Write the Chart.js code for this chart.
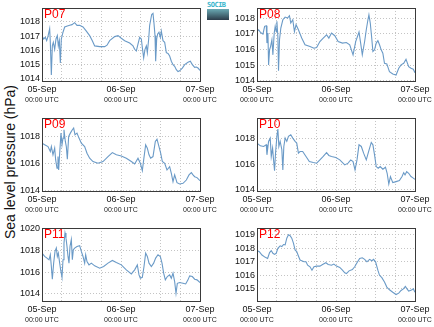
<!DOCTYPE html>
<html>
<head>
<meta charset="utf-8">
<script src="https://cdn.jsdelivr.net/npm/chart.js@4.4.1/dist/chart.umd.min.js"></script>
<style>
  html, body { margin: 0; padding: 0; background: #fff; }
  #page { position: relative; width: 434px; height: 327px; overflow: hidden; }
  .panel { position: absolute; }
  #ytitle {
    position: absolute; left: 10px; top: 162px;
    transform: translate(-50%, -50%) rotate(-90deg);
    white-space: nowrap; font: 14px 'Liberation Sans', Arial, sans-serif; color: #111;
  }
  #logo { position: absolute; left: 207px; top: 2px; width: 22px; }
  #logo .txt { font: bold 7px 'DejaVu Sans Mono', monospace; color: #3bb6cc; line-height: 7px; letter-spacing: -0.5px; }
  #logo .box { height: 11px; background: linear-gradient(#6aaab4, #2c3c4a); }
</style>
</head>
<body>
<div id="page">
  <div id="ytitle">Sea level pressure (hPa)</div>
  <div id="logo"><div class="txt">SOCIB</div><div class="box"></div></div>
</div>
<script>
// Tick labels
const dayLabels = ['05-Sep', '06-Sep', '07-Sep'];
const utcLabel = '00:00 UTC';

// Hours since 05-Sep 00:00 UTC and sea level pressure (hPa)
const p07Hours = [0, 0.51, 1.01, 1.42, 1.82, 2.33, 2.53, 2.84, 3.14, 3.44, 3.85, 4.25, 4.66, 4.96, 5.27, 5.57, 5.87, 6.38, 6.89, 7.7, 8.41, 9.11, 9.92, 10.63, 11.44, 12.46, 13.47, 14.48, 15.29, 16.0, 17.52, 19.04, 19.75, 20.56, 22.08, 23.09, 24.1, 25.11, 26.63, 27.65, 28.15, 28.66, 29.16, 29.67, 30.18, 30.48, 30.89, 31.29, 31.7, 32.0, 32.41, 32.71, 33.32, 33.72, 34.03, 34.33, 34.53, 34.84, 35.14, 35.54, 35.95, 36.25, 36.76, 37.27, 37.77, 38.28, 38.78, 39.29, 39.8, 40.3, 40.81, 41.32, 41.82, 42.63, 43.34, 44.35, 45.06, 45.67, 46.38, 46.89, 47.39, 48.0];
const p07Values = [1017.03, 1016.79, 1016.91, 1016.67, 1016.98, 1017.52, 1016.55, 1014.24, 1016.3, 1016.55, 1016.06, 1016.79, 1017.03, 1016.3, 1016.67, 1015.09, 1016.79, 1017.27, 1017.64, 1017.71, 1017.76, 1017.81, 1017.95, 1017.76, 1017.76, 1017.64, 1017.35, 1017.03, 1016.67, 1016.3, 1016.25, 1016.25, 1016.35, 1016.67, 1016.96, 1017.03, 1016.84, 1016.67, 1016.5, 1016.3, 1016.06, 1015.94, 1016.42, 1016.91, 1016.79, 1016.18, 1015.45, 1016.06, 1016.3, 1015.82, 1016.79, 1017.76, 1018.53, 1018.61, 1017.88, 1017.03, 1015.21, 1016.79, 1017.15, 1017.27, 1016.91, 1017.35, 1016.67, 1016.55, 1015.82, 1015.77, 1015.58, 1015.21, 1014.97, 1014.85, 1014.61, 1014.48, 1014.53, 1014.73, 1014.97, 1015.14, 1015.21, 1014.97, 1014.78, 1014.8, 1014.73, 1014.56];

const p08Hours = [0, 0.5, 1.01, 1.31, 1.81, 2.31, 2.82, 3.02, 3.32, 3.52, 3.82, 4.12, 4.53, 4.83, 5.23, 5.53, 5.84, 6.04, 6.34, 6.54, 6.84, 7.24, 7.85, 8.55, 9.26, 9.86, 10.26, 10.87, 11.37, 11.87, 12.58, 13.58, 14.59, 16.1, 17.3, 18.11, 19.11, 20.12, 21.13, 21.83, 22.64, 23.64, 24.65, 25.96, 27.16, 28.17, 29.18, 29.98, 30.99, 31.49, 31.99, 32.7, 33.2, 33.7, 34.0, 34.41, 34.81, 35.21, 35.71, 36.22, 36.72, 37.22, 37.73, 38.23, 38.73, 39.44, 40.24, 41.25, 42.25, 43.06, 43.76, 44.57, 45.27, 46.08, 46.78, 47.48, 47.99];
const p08Values = [1017.14, 1017.25, 1017.1, 1017.04, 1016.97, 1017.47, 1017.51, 1016.4, 1017.04, 1015.01, 1015.97, 1016.18, 1016.61, 1015.65, 1017.04, 1017.47, 1017.14, 1017.79, 1016.82, 1014.64, 1016.61, 1017.36, 1017.89, 1018.06, 1018.0, 1018.15, 1017.68, 1017.89, 1017.14, 1017.57, 1017.25, 1016.72, 1016.29, 1016.18, 1016.07, 1016.12, 1016.5, 1016.72, 1016.93, 1016.72, 1017.04, 1016.87, 1016.5, 1016.4, 1016.44, 1016.29, 1015.65, 1016.5, 1017.1, 1016.4, 1015.65, 1016.5, 1017.25, 1017.89, 1018.21, 1017.68, 1016.82, 1015.86, 1015.97, 1016.4, 1016.55, 1016.29, 1015.97, 1015.75, 1015.11, 1015.07, 1014.58, 1014.43, 1014.36, 1014.79, 1015.01, 1015.11, 1015.37, 1014.9, 1014.79, 1014.73, 1014.51];

const p09Hours = [0, 0.81, 1.82, 2.53, 2.84, 3.34, 3.85, 4.15, 4.56, 4.86, 5.06, 5.37, 5.77, 6.08, 6.38, 6.68, 7.09, 7.39, 7.7, 8.1, 8.61, 9.22, 9.62, 10.03, 10.63, 11.24, 11.95, 12.96, 13.67, 14.48, 15.49, 17.01, 18.53, 20.05, 21.37, 22.58, 24.1, 25.62, 27.14, 28.15, 29.16, 29.87, 30.48, 30.89, 31.49, 32.0, 32.51, 33.01, 33.72, 34.43, 34.94, 35.54, 36.05, 36.56, 37.27, 37.97, 38.78, 39.29, 39.8, 40.3, 41.01, 41.82, 42.84, 43.85, 44.66, 45.37, 45.87, 46.38, 47.09, 48.0];
const p09Values = [1017.5, 1017.38, 1017.25, 1016.88, 1017.25, 1016.63, 1017.13, 1016.25, 1015.63, 1016.5, 1015.5, 1016.75, 1018.25, 1017.38, 1017.88, 1018.5, 1017.63, 1017.25, 1016.3, 1018.0, 1018.25, 1018.5, 1018.63, 1018.13, 1018.25, 1017.88, 1017.5, 1017.25, 1016.75, 1016.38, 1016.13, 1016.0, 1016.13, 1016.5, 1016.8, 1016.63, 1016.55, 1016.38, 1016.13, 1015.95, 1016.38, 1016.0, 1015.45, 1016.25, 1017.38, 1017.13, 1016.63, 1016.38, 1016.5, 1017.63, 1017.8, 1017.25, 1016.75, 1016.13, 1016.0, 1015.5, 1015.75, 1015.25, 1014.63, 1015.13, 1014.55, 1014.45, 1014.5, 1014.75, 1015.13, 1015.3, 1015.13, 1015.0, 1014.93, 1014.7];

const p10Hours = [0, 1.01, 2.01, 2.82, 3.02, 3.52, 4.02, 4.33, 4.73, 5.03, 5.33, 5.63, 6.04, 6.34, 6.64, 7.04, 7.55, 7.85, 8.15, 8.55, 9.05, 9.56, 10.26, 10.87, 11.57, 12.07, 12.58, 13.08, 13.88, 14.89, 15.9, 17.1, 18.11, 19.11, 20.12, 21.13, 21.83, 22.64, 23.94, 25.15, 26.66, 27.67, 28.47, 29.18, 29.78, 30.38, 30.99, 31.69, 32.39, 33.2, 33.9, 34.71, 35.21, 35.71, 36.22, 36.82, 37.42, 38.23, 39.03, 39.54, 40.04, 40.54, 41.25, 42.25, 43.26, 44.06, 44.57, 44.97, 45.47, 46.08, 46.78, 47.28, 47.99];
const p10Values = [1017.66, 1017.44, 1017.39, 1017.52, 1016.73, 1017.79, 1018.05, 1016.6, 1017.26, 1016.33, 1015.48, 1016.86, 1018.19, 1018.77, 1017.39, 1017.79, 1017.13, 1015.54, 1017.39, 1018.05, 1017.79, 1018.19, 1018.32, 1018.05, 1017.79, 1017.66, 1016.86, 1016.99, 1016.99, 1016.6, 1016.2, 1016.12, 1016.07, 1016.33, 1016.6, 1016.91, 1016.68, 1016.6, 1016.52, 1016.33, 1015.93, 1016.07, 1016.33, 1016.2, 1015.54, 1016.33, 1017.52, 1017.39, 1016.86, 1016.33, 1016.99, 1017.71, 1017.52, 1016.73, 1015.8, 1015.67, 1015.8, 1015.59, 1015.75, 1015.27, 1014.42, 1015.01, 1014.53, 1014.61, 1014.69, 1015.01, 1015.32, 1015.14, 1015.4, 1015.27, 1015.01, 1014.93, 1014.79];

const p11Hours = [0, 0.81, 1.52, 2.13, 2.53, 2.84, 3.14, 3.54, 3.95, 4.35, 4.66, 4.96, 5.37, 5.67, 6.08, 6.38, 6.68, 6.99, 7.29, 7.59, 7.9, 8.2, 8.51, 8.91, 9.22, 9.52, 9.92, 10.63, 11.44, 11.95, 12.46, 12.96, 13.27, 13.67, 14.28, 14.99, 16.0, 17.52, 18.73, 20.05, 21.37, 22.58, 24.1, 25.62, 27.14, 28.15, 28.96, 29.47, 29.87, 30.48, 30.99, 31.49, 32.0, 32.51, 33.22, 33.92, 34.53, 35.24, 35.95, 36.46, 36.96, 37.47, 38.08, 38.78, 39.29, 39.8, 40.3, 40.71, 41.11, 41.82, 42.84, 43.65, 44.35, 44.86, 45.67, 46.38, 47.09, 48.0];
const p11Values = [1017.76, 1017.45, 1017.3, 1017.14, 1017.61, 1016.52, 1015.34, 1016.83, 1017.92, 1018.23, 1017.45, 1017.76, 1016.83, 1016.21, 1015.52, 1017.14, 1018.69, 1019.63, 1019.16, 1018.38, 1017.45, 1016.83, 1018.38, 1019.01, 1017.14, 1018.07, 1018.23, 1018.38, 1018.45, 1017.92, 1017.45, 1016.83, 1017.61, 1016.98, 1016.67, 1016.83, 1016.58, 1016.36, 1016.52, 1016.83, 1017.08, 1016.89, 1016.67, 1016.21, 1015.83, 1016.21, 1016.67, 1015.74, 1015.43, 1015.52, 1016.52, 1017.76, 1017.45, 1016.83, 1016.52, 1016.83, 1017.3, 1017.61, 1017.45, 1016.83, 1015.9, 1015.28, 1015.59, 1015.74, 1015.43, 1015.9, 1015.12, 1014.03, 1014.96, 1015.03, 1014.96, 1014.9, 1015.28, 1015.65, 1015.59, 1015.34, 1015.28, 1015.03];

const p12Hours = [0, 0.7, 1.51, 2.52, 3.22, 3.82, 4.33, 4.83, 5.33, 5.84, 6.34, 7.04, 7.55, 8.05, 8.55, 9.05, 9.56, 10.06, 10.56, 11.07, 11.57, 12.07, 12.58, 13.08, 13.58, 14.29, 14.89, 15.39, 16.1, 16.7, 17.3, 18.11, 19.11, 19.92, 20.93, 21.63, 22.64, 23.34, 24.14, 25.15, 25.96, 26.66, 27.16, 27.97, 28.97, 29.68, 30.38, 31.19, 31.99, 32.7, 33.4, 34.21, 34.91, 35.41, 36.02, 36.72, 37.22, 37.93, 38.73, 39.44, 40.24, 41.25, 42.25, 43.06, 43.76, 44.47, 45.07, 45.57, 46.08, 46.58, 47.08, 47.48, 47.99];
const p12Values = [1017.83, 1017.75, 1017.5, 1017.33, 1017.25, 1017.68, 1017.83, 1017.63, 1017.55, 1017.63, 1018.0, 1018.18, 1018.13, 1018.28, 1018.25, 1018.75, 1019.0, 1018.93, 1018.75, 1018.38, 1017.88, 1017.75, 1017.43, 1017.13, 1017.08, 1017.0, 1017.0, 1016.75, 1016.63, 1016.38, 1016.63, 1016.68, 1016.68, 1016.8, 1016.93, 1016.8, 1016.75, 1016.83, 1016.68, 1016.58, 1016.38, 1016.18, 1016.13, 1016.33, 1016.43, 1016.63, 1016.93, 1017.25, 1017.3, 1017.18, 1017.0, 1017.18, 1017.08, 1017.18, 1017.0, 1016.38, 1016.0, 1015.83, 1015.5, 1015.13, 1014.93, 1014.75, 1014.58, 1014.68, 1014.88, 1015.0, 1015.18, 1015.0, 1014.83, 1014.88, 1014.93, 1015.0, 1014.75];

// Panel names and y ranges
const stations = ['P07', 'P08', 'P09', 'P10', 'P11', 'P12'];
const stationHours = [p07Hours, p08Hours, p09Hours, p10Hours, p11Hours, p12Hours];
const stationValues = [p07Values, p08Values, p09Values, p10Values, p11Values, p12Values];
const yMin = [1013.81, 1013.98, 1013.93, 1013.87, 1013.32, 1014.1];
const yMax = [1018.99, 1018.64, 1019.38, 1019.64, 1020.09, 1019.5];
const yStep = [1, 1, 2, 2, 2, 1];

// Plot area top-left corner of each panel (page px)
const plotLeft = [42, 257, 42, 257, 42, 257];
const plotTop = [8, 8, 118, 118, 228, 228];
const PLOT_W = 158, PLOT_H = 73;
const Y_AXIS_W = 40, X_AXIS_H = 13, X2_AXIS_H = 17, PAD_TOP = 6, PAD_RIGHT = 20;

Chart.defaults.font.family = "'Liberation Sans', Arial, sans-serif";
Chart.defaults.color = '#222';

const framePlugin = {
  id: 'frame',
  afterDatasetsDraw(chart, args, opts) {
    const { ctx, chartArea: a } = chart;
    ctx.save();
    ctx.strokeStyle = '#3a3a3a';
    ctx.lineWidth = 1;
    ctx.strokeRect(a.left + 0.5, a.top + 0.5, a.right - a.left, a.bottom - a.top);
    ctx.fillStyle = '#ff0000';
    ctx.font = "12px 'Liberation Sans', Arial, sans-serif";
    ctx.textBaseline = 'top';
    ctx.fillText(opts.label, a.left + 2, a.top + 1);
    ctx.restore();
  }
};

const page = document.getElementById('page');

stations.forEach((name, i) => {
  const wrap = document.createElement('div');
  wrap.className = 'panel';
  wrap.style.left = (plotLeft[i] - Y_AXIS_W) + 'px';
  wrap.style.top = (plotTop[i] - PAD_TOP) + 'px';
  const canvas = document.createElement('canvas');
  canvas.width = Y_AXIS_W + PLOT_W + PAD_RIGHT;
  canvas.height = PAD_TOP + PLOT_H + X_AXIS_H + X2_AXIS_H;
  wrap.appendChild(canvas);
  page.appendChild(wrap);

  const points = stationHours[i].map((h, k) => ({ x: h, y: stationValues[i][k] }));

  new Chart(canvas, {
    type: 'line',
    data: {
      datasets: [{
        data: points,
        borderColor: 'rgb(106, 154, 199)',
        borderWidth: 1.1,
        pointRadius: 0,
        tension: 0,
        fill: false
      }]
    },
    plugins: [framePlugin],
    options: {
      responsive: false,
      animation: false,
      events: [],
      layout: { padding: { top: PAD_TOP, right: PAD_RIGHT, left: 0, bottom: 0 } },
      plugins: {
        legend: { display: false },
        tooltip: { enabled: false },
        frame: { label: name }
      },
      scales: {
        x: {
          type: 'linear',
          position: 'bottom',
          min: 0,
          max: 48,
          afterFit(scale) { scale.height = X_AXIS_H; scale.paddingLeft = 0; scale.paddingRight = 0; },
          ticks: {
            stepSize: 6,
            autoSkip: false,
            maxRotation: 0,
            padding: 3,
            font: { size: 9 },
            color: '#111',
            callback: v => (v % 24 === 0 ? dayLabels[v / 24] : '')
          },
          grid: { color: '#c4c4c4', lineWidth: 1, drawTicks: false },
          border: { display: false, dash: [1, 2] }
        },
        x2: {
          type: 'linear',
          position: 'bottom',
          min: 0,
          max: 48,
          afterFit(scale) { scale.height = X2_AXIS_H; scale.paddingLeft = 0; scale.paddingRight = 0; },
          ticks: {
            stepSize: 24,
            autoSkip: false,
            maxRotation: 0,
            padding: 2,
            font: { size: 7 },
            color: '#222',
            callback: () => utcLabel
          },
          grid: { display: false, drawTicks: false },
          border: { display: false }
        },
        y: {
          type: 'linear',
          min: yMin[i],
          max: yMax[i],
          afterFit(scale) { scale.width = Y_AXIS_W; scale.paddingTop = 0; scale.paddingBottom = 0; },
          ticks: {
            stepSize: yStep[i],
            includeBounds: false,
            padding: 2,
            font: { size: 9 },
            color: '#111',
            callback: v => String(v)
          },
          grid: { color: '#c4c4c4', lineWidth: 1, drawTicks: false },
          border: { display: false, dash: [1, 2] }
        }
      }
    }
  });
});
</script>
</body>
</html>
